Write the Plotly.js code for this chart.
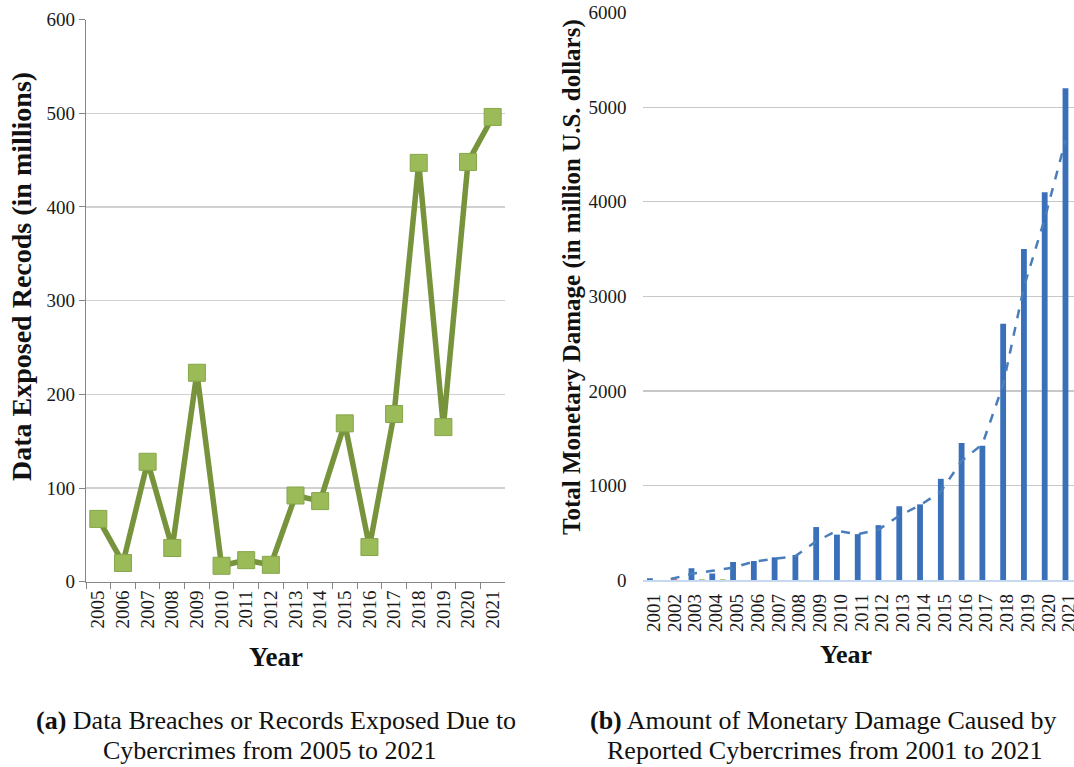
<!DOCTYPE html>
<html>
<head>
<meta charset="utf-8">
<script src="https://cdn.plot.ly/plotly-3.0.1.min.js"></script>
<style>html,body{margin:0;padding:0;background:#fff;}#chart{width:1074px;height:767px;}</style>
</head>
<body>
<div id="chart"></div>
<script>
// (a) Data breaches / records exposed (millions)
const yearsA = ["2005","2006","2007","2008","2009","2010","2011","2012","2013","2014","2015","2016","2017","2018","2019","2020","2021"];
const recordsExposed = [67, 20, 128, 36, 223, 17, 23, 18, 92, 86, 169, 37, 179, 447, 165, 448, 496];

// (b) Monetary damage (million USD)
const yearsB = [2001,2002,2003,2004,2005,2006,2007,2008,2009,2010,2011,2012,2013,2014,2015,2016,2017,2018,2019,2020,2021];
const damage = [18, 0, 125, 70, 190, 200, 240, 265, 560, 480, 485, 580, 780, 800, 1070, 1450, 1420, 2710, 3500, 4100, 5200];
// tiny companion series visible near the baseline
const minorRedYears = [2002];
const minorRed = [8];
const minorGreenYears = [2003, 2004];
const minorGreen = [8, 8];
// dashed trend line
const trendYears = [2002,2003,2004,2005,2006,2007,2008,2009,2010,2011,2012,2013,2014,2015,2016,2017,2018,2019,2020,2021];
const trendValues = [10, 65, 97, 130, 195, 222, 253, 410, 520, 484, 532, 680, 790, 935, 1260, 1435, 2065, 3100, 3820, 4650];

const serif = '"Liberation Serif", "Times New Roman", serif';
const W = 1074, H = 767;
const px = x => x / W;
const py = y => 1 - y / H;

const traces = [
  {
    type: "scatter", mode: "lines+markers",
    x: yearsA, y: recordsExposed, xaxis: "x", yaxis: "y",
    line: {color: "#77933c", width: 5.5},
    marker: {symbol: "square", size: 17, color: "#9bbb59", line: {color: "#85a64a", width: 1}},
    cliponaxis: false, showlegend: false
  },
  {
    type: "bar", x: yearsB, y: damage, xaxis: "x2", yaxis: "y2",
    width: 0.28, offset: -0.32,
    marker: {color: "#3a70b9"}, showlegend: false
  },
  {
    type: "bar", x: minorRedYears, y: minorRed, xaxis: "x2", yaxis: "y2",
    width: 0.28, offset: -0.14,
    marker: {color: "#c0504d"}, showlegend: false
  },
  {
    type: "bar", x: minorGreenYears, y: minorGreen, xaxis: "x2", yaxis: "y2",
    width: 0.28, offset: 0.18,
    marker: {color: "#9bbb59"}, showlegend: false
  },
  {
    type: "scatter", mode: "lines", x: trendYears, y: trendValues, xaxis: "x3", yaxis: "y2",
    line: {color: "#4a7ebb", width: 2.5, dash: "dash", shape: "linear"},
    showlegend: false
  }
];

const tickFont = {family: serif, size: 19, color: "#1a1a1a"};
const rangeB = [2000.5, 2021.23];
const shiftB = 0.18;

function label(text, x, y, size, angle) {
  return {text: text, xref: "paper", yref: "paper", x: px(x), y: py(y), showarrow: false,
          textangle: angle || 0, xanchor: "center", yanchor: "middle", align: "center",
          font: {family: serif, size: size, color: "#111"}};
}

const layout = {
  width: W, height: H,
  margin: {l: 0, r: 0, t: 0, b: 0},
  paper_bgcolor: "#ffffff", plot_bgcolor: "rgba(0,0,0,0)",
  barmode: "overlay",
  showlegend: false,
  font: {family: serif, color: "#1a1a1a"},
  xaxis: {
    domain: [px(86), px(505)], anchor: "y", type: "category", range: [-0.5, 16.5],
    showline: true, linecolor: "#868686", linewidth: 1.3,
    ticks: "outside", ticklen: 6, tickcolor: "#868686", tickson: "boundaries",
    showgrid: false, tickangle: -90, tickfont: tickFont, zeroline: false
  },
  yaxis: {
    domain: [py(581.7), py(19.5)], anchor: "x", range: [0, 600], dtick: 100,
    showline: true, linecolor: "#868686", linewidth: 1.3,
    ticks: "outside", ticklen: 6, tickcolor: "#868686",
    showgrid: true, gridcolor: "#d0d0d0", gridwidth: 1.2, zeroline: false,
    tickfont: tickFont
  },
  xaxis2: {
    domain: [px(643.3), 1], anchor: "y2", range: rangeB,
    tickmode: "array", tickvals: yearsB, ticktext: yearsB.map(String),
    ticklabeloverflow: "allow",
    showline: true, linecolor: "#c6d9f1", linewidth: 1.5,
    ticks: "outside", ticklen: 5, tickcolor: "rgba(0,0,0,0)",
    showgrid: false, zeroline: false, tickangle: -90, tickfont: tickFont
  },
  xaxis3: {
    overlaying: "x2", anchor: "y2", range: [rangeB[0] + shiftB, rangeB[1] + shiftB],
    visible: false
  },
  yaxis2: {
    domain: [py(580), py(12.7)], anchor: "x2", range: [0, 6000], dtick: 1000,
    showline: false, ticks: "outside", ticklen: 12, tickcolor: "rgba(0,0,0,0)",
    showgrid: true, gridcolor: "#c8c8c8", gridwidth: 1.2, zeroline: false,
    tickfont: tickFont
  },
  annotations: [
    label("<b>Data Exposed Recods (in millions)</b>", 21, 277, 28, -90),
    label("<b>Year</b>", 276, 657, 27),
    label("<b>Total Monetary Damage (in million U.S. dollars)</b>", 572, 277, 25, -90),
    label("<b>Year</b>", 846, 654, 26),
    label("<b>(a)</b> Data Breaches or Records Exposed Due to", 276, 720, 26),
    label("Cybercrimes from 2005 to 2021", 270, 750, 26),
    label("<b>(b)</b> Amount of Monetary Damage Caused by", 823, 720, 26),
    label("Reported Cybercrimes from 2001 to 2021", 824, 750, 26)
  ]
};

Plotly.newPlot("chart", traces, layout, {displayModeBar: false, staticPlot: true});
</script>
</body>
</html>
